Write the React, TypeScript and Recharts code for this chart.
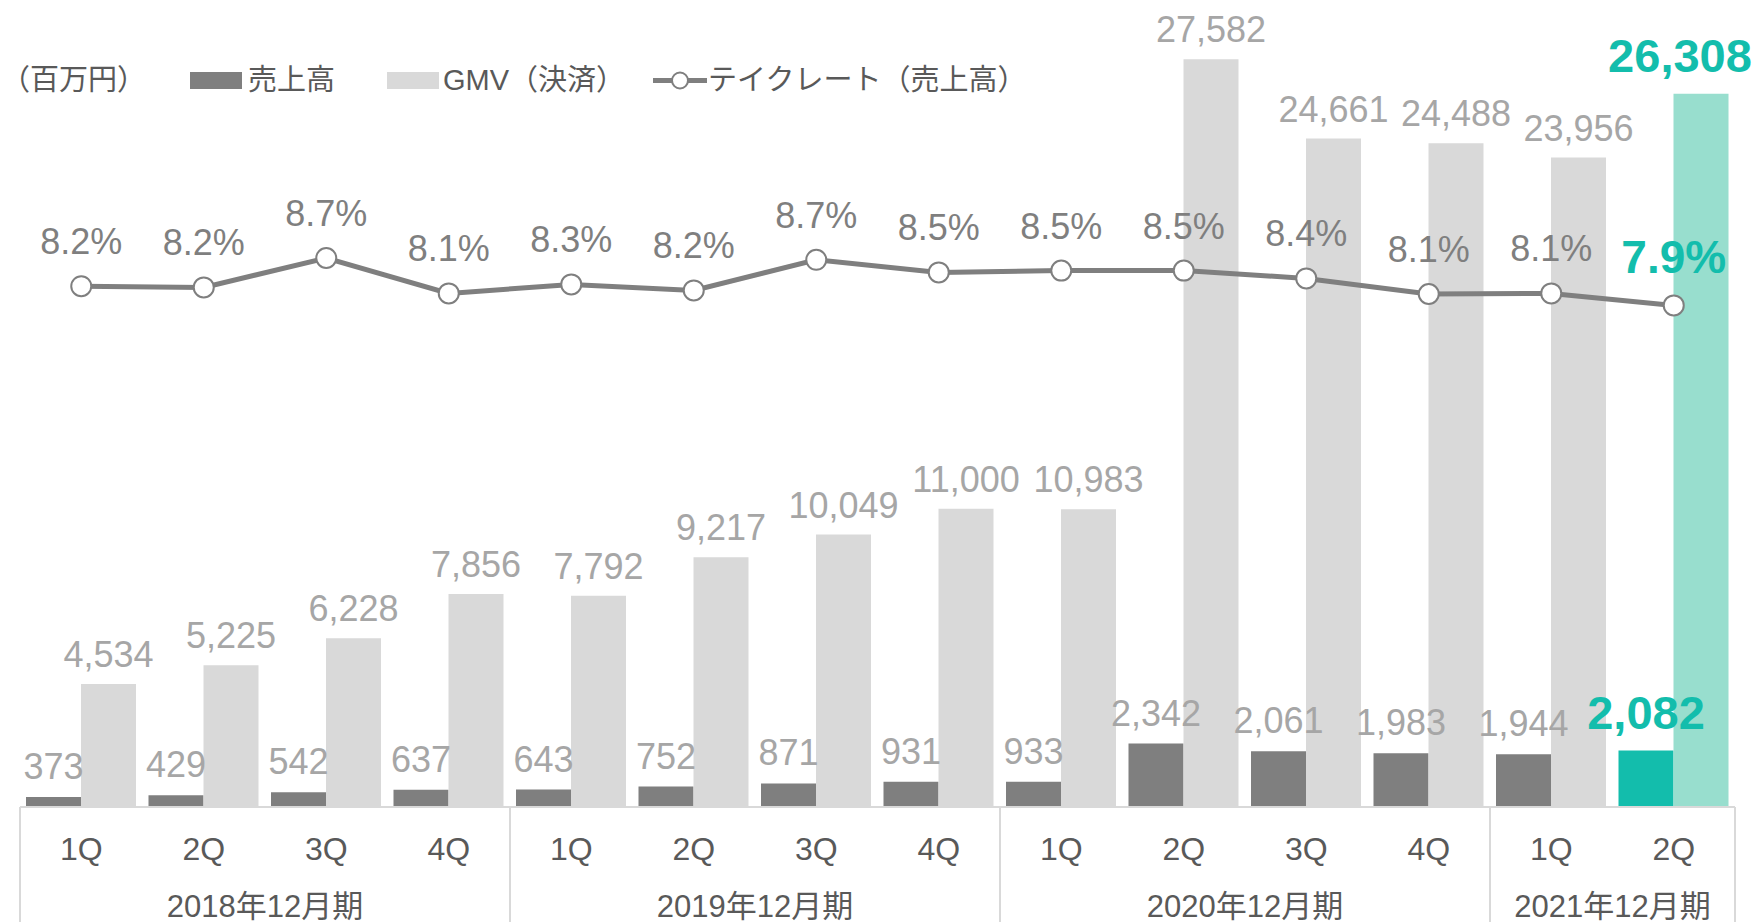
import React from 'react';
import { ComposedChart, Bar, Line, XAxis, YAxis, Cell, LabelList } from 'recharts';

const periods = ['2018-1Q', '2018-2Q', '2018-3Q', '2018-4Q', '2019-1Q', '2019-2Q', '2019-3Q', '2019-4Q', '2020-1Q', '2020-2Q', '2020-3Q', '2020-4Q', '2021-1Q', '2021-2Q'];
const quarters = ['1Q', '2Q', '3Q', '4Q', '1Q', '2Q', '3Q', '4Q', '1Q', '2Q', '3Q', '4Q', '1Q', '2Q'];
const fiscalYears = ['2018年12月期', '2018年12月期', '2018年12月期', '2018年12月期', '2019年12月期', '2019年12月期', '2019年12月期', '2019年12月期', '2020年12月期', '2020年12月期', '2020年12月期', '2020年12月期', '2021年12月期', '2021年12月期'];
const sales = [373, 429, 542, 637, 643, 752, 871, 931, 933, 2342, 2061, 1983, 1944, 2082];
const gmv = [4534, 5225, 6228, 7856, 7792, 9217, 10049, 11000, 10983, 27582, 24661, 24488, 23956, 26308];
const takeRate = [8.23, 8.21, 8.7, 8.11, 8.26, 8.16, 8.67, 8.46, 8.49, 8.49, 8.36, 8.1, 8.11, 7.91];

const data = periods.map((p, i) => ({ period: p, q: quarters[i], fy: fiscalYears[i], sales: sales[i], gmv: gmv[i], rate: takeRate[i] }));
const last = data.length - 1;

const DARK = '#7f7f7f';
const LIGHT = '#d9d9d9';
const TEAL = '#13bdac';
const TEAL_LIGHT = '#98dece';
const LABEL_GRAY = '#a6a6a6';
const AXIS_TEXT = '#595959';
const NUM_FONT = '"Liberation Sans", Arial, sans-serif';
const JP_FONT = '"Liberation Sans", "Noto Sans CJK JP", sans-serif';

const AxisTick = (props: any) => {
  const { x, y, index } = props;
  const n = quarters.length;
  const w = typeof props.width === 'number' && props.width > 0 ? props.width : 1715;
  const bw = w / n;
  const isStart = index === 0 || fiscalYears[index] !== fiscalYears[index - 1];
  let groupSize = 0;
  if (isStart) {
    let j = index;
    while (j < n && fiscalYears[j] === fiscalYears[index]) j++;
    groupSize = j - index;
  }
  return (
    <g>
      <text x={x} y={y + 42} textAnchor="middle" dominantBaseline="central" fill={AXIS_TEXT} fontSize={32} fontFamily={NUM_FONT}>
        {quarters[index]}
      </text>
      {isStart && <line x1={x - bw / 2} x2={x - bw / 2} y1={y} y2={y + 130} stroke={LIGHT} strokeWidth={2} />}
      {index === n - 1 && <line x1={x + bw / 2} x2={x + bw / 2} y1={y} y2={y + 130} stroke={LIGHT} strokeWidth={2} />}
      {isStart && (
        <text x={x + (bw * (groupSize - 1)) / 2} y={y + 99} textAnchor="middle" dominantBaseline="central" fill={AXIS_TEXT} fontSize={31} fontFamily={JP_FONT}>
          {fiscalYears[index]}
        </text>
      )}
    </g>
  );
};

const fmt = (v: number) => v.toLocaleString('en-US');

const makeBarLabel = (offset: number, hlOffset: number, hlDx: number) => (props: any) => {
  const { x, y, width, value, index } = props;
  const hl = index === last;
  return (
    <text
      x={x + width / 2 + (hl ? hlDx : 0)}
      y={y - (hl ? hlOffset : offset)}
      textAnchor="middle"
      fill={hl ? TEAL : LABEL_GRAY}
      fontSize={hl ? 47 : 36}
      fontWeight={hl ? 'bold' : 'normal'}
      fontFamily={NUM_FONT}
    >
      {fmt(value)}
    </text>
  );
};

const RateLabel = (props: any) => {
  const { x, y, value, index } = props;
  const hl = index === last;
  return (
    <text
      x={x}
      y={y - 32}
      textAnchor="middle"
      fill={hl ? TEAL : DARK}
      fontSize={hl ? 46 : 36}
      fontWeight={hl ? 'bold' : 'normal'}
      fontFamily={NUM_FONT}
    >
      {Number(value).toFixed(1) + '%'}
    </text>
  );
};

const legendText: React.CSSProperties = { fontFamily: JP_FONT, fontSize: 29, color: AXIS_TEXT, whiteSpace: 'nowrap', lineHeight: '29px' };

export default function App() {
  return (
    <div style={{ position: 'absolute', left: 0, top: 0, width: 1757, height: 922, background: '#fff', overflow: 'hidden' }}>
      <div style={{ position: 'absolute', left: 1, top: 66, display: 'flex', alignItems: 'center' }}>
        <span style={legendText}>（百万円）</span>
      </div>
      <div style={{ position: 'absolute', left: 190, top: 66, display: 'flex', alignItems: 'center' }}>
        <span style={{ display: 'inline-block', width: 52, height: 17, background: DARK, marginRight: 6 }} />
        <span style={legendText}>売上高</span>
      </div>
      <div style={{ position: 'absolute', left: 387, top: 66, display: 'flex', alignItems: 'center' }}>
        <span style={{ display: 'inline-block', width: 52, height: 17, background: LIGHT, marginRight: 4 }} />
        <span style={legendText}>GMV（決済）</span>
      </div>
      <div style={{ position: 'absolute', left: 653, top: 66, display: 'flex', alignItems: 'center' }}>
        <svg width={54} height={29} style={{ marginRight: 1 }}>
          <line x1={0} x2={54} y1={14.5} y2={14.5} stroke={DARK} strokeWidth={5} />
          <circle cx={27} cy={14.5} r={8} fill="#fff" stroke={DARK} strokeWidth={2} />
        </svg>
        <span style={legendText}>テイクレート（売上高）</span>
      </div>
      <ComposedChart width={1757} height={922} data={data} margin={{ top: 48, right: 22, bottom: 0, left: 20 }} barGap={0}>
        <XAxis
          dataKey="period"
          height={115}
          interval={0}
          tickLine={false}
          tickSize={0}
          tickMargin={0}
          axisLine={{ stroke: LIGHT, strokeWidth: 2 }}
          tick={<AxisTick />}
        />
        <YAxis yAxisId="left" domain={[0, 28000]} hide allowDataOverflow />
        <YAxis yAxisId="right" orientation="right" domain={[-0.45, 12.2]} hide allowDataOverflow />
        <Bar yAxisId="left" dataKey="sales" barSize={55} isAnimationActive={false}>
          {data.map((_, i) => (
            <Cell key={i} fill={i === last ? TEAL : DARK} />
          ))}
          <LabelList dataKey="sales" content={makeBarLabel(18, 22, 0)} />
        </Bar>
        <Bar yAxisId="left" dataKey="gmv" barSize={55} isAnimationActive={false}>
          {data.map((_, i) => (
            <Cell key={i} fill={i === last ? TEAL_LIGHT : LIGHT} />
          ))}
          <LabelList dataKey="gmv" content={makeBarLabel(17, 22, -21)} />
        </Bar>
        <Line
          yAxisId="right"
          dataKey="rate"
          stroke={DARK}
          strokeWidth={5}
          dot={{ r: 10, fill: '#fff', stroke: DARK, strokeWidth: 2 }}
          activeDot={false}
          isAnimationActive={false}
        >
          <LabelList dataKey="rate" content={RateLabel} />
        </Line>
      </ComposedChart>
    </div>
  );
}
